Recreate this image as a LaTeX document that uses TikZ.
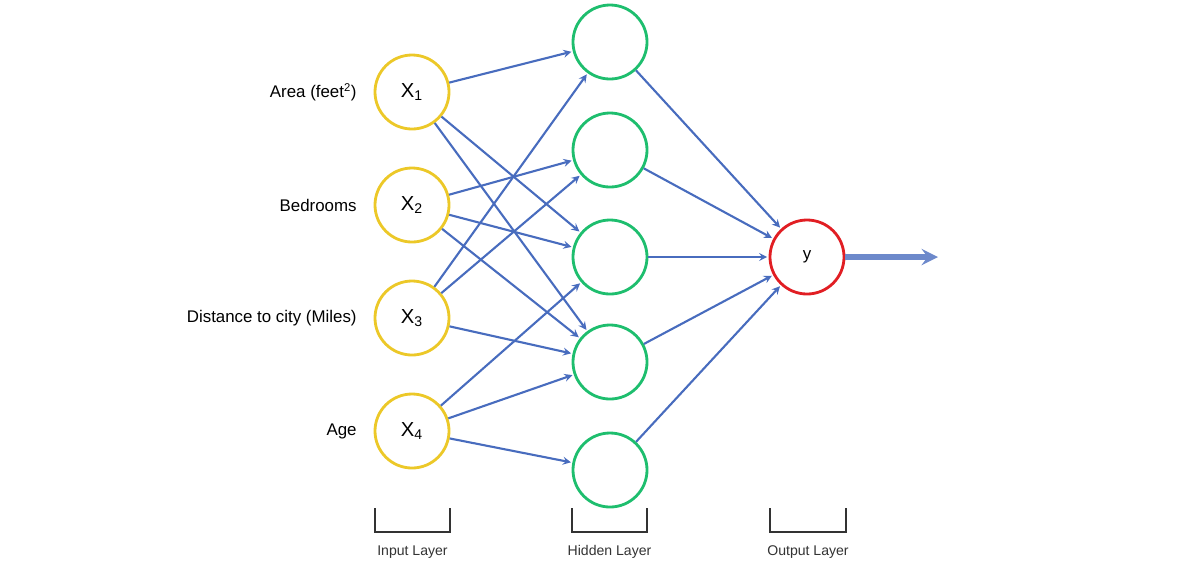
\documentclass[tikz,border=0pt]{standalone}
\usepackage{fontspec}
\setmainfont{Liberation Sans}
\usetikzlibrary{positioning}
\usetikzlibrary{calc}
\definecolor{edgeblue}{RGB}{72,108,190}
\definecolor{inyellow}{RGB}{236,200,40}
\definecolor{hidgreen}{RGB}{30,190,110}
\definecolor{outred}{RGB}{225,30,35}
\tikzset{%
  wt/.style = {-stealth,edgeblue,line width=1.5pt,shorten >=1pt},
  inp/.style = {circle,draw=inyellow,line width=2pt,fill=white,
        minimum size=1.85cm,font=\Large},
  hid/.style = {circle,draw=hidgreen,line width=2pt,fill=white,
        minimum size=1.85cm},
  outp/.style = {circle,draw=outred,line width=2pt,fill=white,
        minimum size=1.85cm,font=\large},
  lab/.style = {left=0.3cm,font=\large},
  brk/.style = {line width=1.2pt,black!80},
  laycap/.style = {font=\normalsize,text=black!80}
}
\begin{document}
\begin{tikzpicture}[x=0.025cm,y=-0.025cm]
    \useasboundingbox (0,0) rectangle (1182,562);
    % input layer
    \node[inp] (x1) at (412,92)  {X\textsubscript{1}};
    \node[inp] (x2) at (412,205) {X\textsubscript{2}};
    \node[inp] (x3) at (412,318) {X\textsubscript{3}};
    \node[inp] (x4) at (412,431) {X\textsubscript{4}};
    \node[lab] (l1) at (x1.west) {Area (feet\textsuperscript{2})};
    \node[lab] (l2) at (x2.west) {Bedrooms};
    \node[lab] (l3) at (x3.west) {Distance to city (Miles)};
    \node[lab] (l4) at (x4.west) {Age};
    % hidden layer
    \node[hid] (h1) at (610,42)  {};
    \node[hid] (h2) at (610,150) {};
    \node[hid] (h3) at (610,257) {};
    \node[hid] (h4) at (610,362) {};
    \node[hid] (h5) at (610,470) {};
    % output layer
    \node[outp] (y) at (807,257) {y};
    \coordinate (out) at (938,257);
    % weights
    \foreach \a/\b in {x1/h1,x1/h3,x1/h4,x2/h2,x2/h3,x2/h4,
        x3/h1,x3/h2,x3/h4,x4/h3,x4/h4,x4/h5}
        \draw[wt] (\a) -- (\b);
    \foreach \h in {h1,h2,h3,h4,h5}
        \draw[wt] (\h) -- (y);
    \draw[-stealth,edgeblue!80,line width=4pt] (y) -- (out);
    % layer brackets
    \foreach \xa/\xb/\name/\txt in {375/450/bi/Input Layer,
        572/647/bh/Hidden Layer,770/846/bo/Output Layer}{
        \draw[brk] (\xa,508) -- (\xa,532) -- (\xb,532) -- (\xb,508);
        \node[laycap] (\name) at ({(\xa+\xb)/2},552) {\txt};
    }
\end{tikzpicture}
\end{document}
